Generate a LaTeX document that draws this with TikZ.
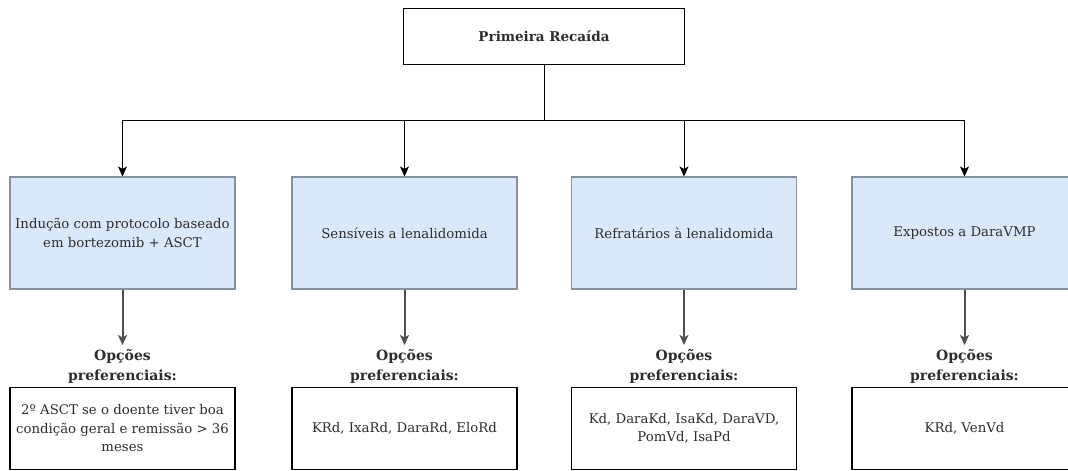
\documentclass[tikz,border=0pt]{standalone}
\usepackage{fontspec}
\setmainfont{DejaVu Serif}
\usetikzlibrary{arrows.meta}

\definecolor{boxblue}{RGB}{218,232,252}
\definecolor{boxedge}{RGB}{135,145,158}
\definecolor{textgray}{RGB}{45,45,45}
\definecolor{arrowgray}{RGB}{80,80,80}

\begin{document}
\begin{tikzpicture}[x=1pt,y=-1pt,
  topbox/.style={draw=black, line width=1pt, minimum width=281pt, minimum height=56pt,
    inner sep=0pt, text=textgray, font=\fontsize{13.5}{16}\selectfont\bfseries},
  groupbox/.style={draw=boxedge, fill=boxblue, line width=1.1pt, minimum width=225pt,
    minimum height=112pt, align=center, inner sep=0pt, text=textgray,
    font=\fontsize{13.3}{19}\selectfont},
  optlabel/.style={anchor=north, align=center, inner xsep=0pt, inner ysep=4pt,
    text=textgray, font=\fontsize{14}{20}\selectfont\bfseries},
  optbox/.style={draw=black, line width=1.1pt, minimum width=225pt, minimum height=82pt,
    align=center, inner sep=0pt, text=textgray, font=\fontsize{13.3}{18.5}\selectfont},
  toparrow/.style={draw=black, line width=1pt, -{Stealth[length=10pt,width=9pt,inset=2.5pt]}},
  lowarrow/.style={draw=arrowgray, line width=2pt, -{Stealth[length=10pt,width=9pt,inset=2.5pt,fill=black]}}]

\useasboundingbox (0,0) rectangle (1068,471);
\fill[white] (0,0) rectangle (1068,471);
\clip (0,0) rectangle (1068,471);

% first relapse
\node[topbox] (relapse) at (544,36) {Primeira Recaída};
\coordinate (split) at (544,120);

% patient groups
\node[groupbox] (grpA) at (122.5,233) {Indução com protocolo baseado\\em bortezomib + ASCT};
\node[groupbox] (grpB) at (404.5,233) {Sensíveis a lenalidomida};
\node[groupbox] (grpC) at (684,233) {Refratários à lenalidomida};
\node[groupbox] (grpD) at (964.5,233) {Expostos a DaraVMP};

\draw[line width=1pt] (relapse) -- (split);
\draw[toparrow] (split) -| (grpA);
\draw[toparrow] (split) -| (grpB);
\draw[toparrow] (split) -| (grpC);
\draw[toparrow] (split) -| (grpD);

% preferred options
\node[optlabel] (labA) at (122.5,345) {Opções\\preferenciais:};
\node[optlabel] (labB) at (404.5,345) {Opções\\preferenciais:};
\node[optlabel] (labC) at (684,345) {Opções\\preferenciais:};
\node[optlabel] (labD) at (964.5,345) {Opções\\preferenciais:};

\node[optbox] (optA) at (122.5,428.5) {2º ASCT se o doente tiver boa\\condição geral e remissão > 36\\meses};
\node[optbox] (optB) at (404.5,428.5) {KRd, IxaRd, DaraRd, EloRd};
\node[optbox] (optC) at (684,428.5) {Kd, DaraKd, IsaKd, DaraVD,\\PomVd, IsaPd};
\node[optbox] (optD) at (964.5,428.5) {KRd, VenVd};

\draw[lowarrow] (grpA) -- (labA);
\draw[lowarrow] (grpB) -- (labB);
\draw[lowarrow] (grpC) -- (labC);
\draw[lowarrow] (grpD) -- (labD);
\end{tikzpicture}
\end{document}
